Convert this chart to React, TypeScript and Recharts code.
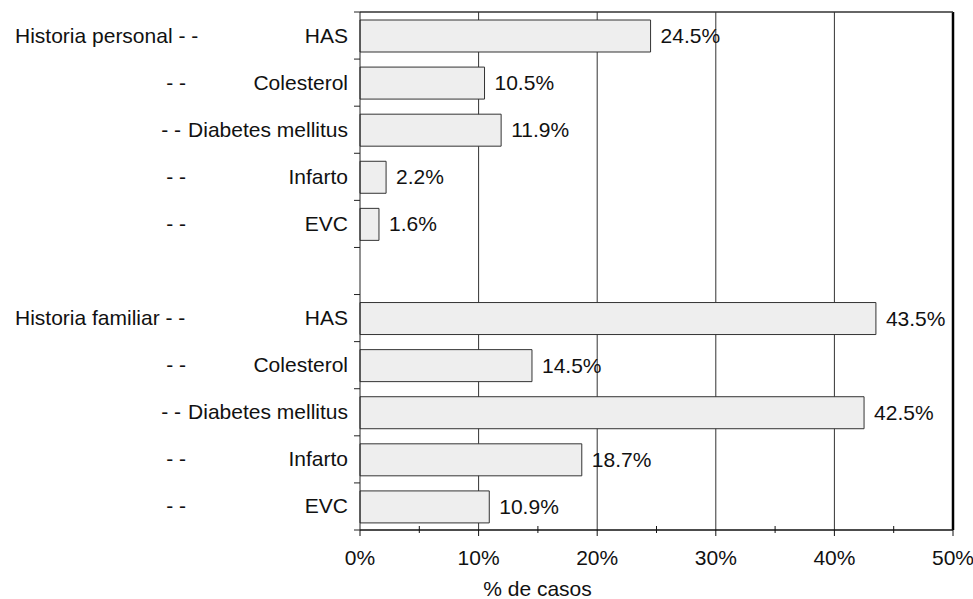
import { BarChart, Bar, XAxis, YAxis, CartesianGrid, LabelList, ReferenceLine } from "recharts";

const groups = ["Historia personal", "Historia familiar"];
const factors = ["HAS", "Colesterol", "Diabetes mellitus", "Infarto", "EVC"];
const personal = [24.5, 10.5, 11.9, 2.2, 1.6];
const familiar = [43.5, 14.5, 42.5, 18.7, 10.9];
const xTicks = [0, 5, 10, 15, 20, 25, 30, 35, 40, 45, 50];
const gridLines = [10, 20, 30, 40];

type Row = { id: string; name: string; group: string | null; value: number | null };

const rows: Row[] = [
  ...factors.map((f, i) => ({ id: "p" + i, name: f, group: i === 0 ? groups[0] : null, value: personal[i] })),
  { id: "gap", name: "", group: null, value: null },
  ...factors.map((f, i) => ({ id: "f" + i, name: f, group: i === 0 ? groups[1] : null, value: familiar[i] })),
];

const W = 973;
const H = 599;
const TOP = 12;
const AXIS_H = 69;
const FS = 21;
const FONT = '"Liberation Sans", Arial, sans-serif';
const half = (H - AXIS_H - TOP) / rows.length / 2;

let ctx: CanvasRenderingContext2D | null = null;
const measure = (s: string) => {
  if (!ctx) {
    ctx = document.createElement("canvas").getContext("2d");
    if (ctx) ctx.font = FS + 'px "Liberation Sans"';
  }
  return ctx ? ctx.measureText(s).width : s.length * 10;
};

function CatTick(props: any) {
  const { x, y, payload, index } = props;
  const row = rows.find(r => r.id === payload.value);
  const last = index === rows.length - 1;
  const labelEnd = x - 12;
  return (
    <g>
      <line x1={x - 6} x2={x} y1={y - half} y2={y - half} stroke="#222" />
      {last && <line x1={x - 6} x2={x} y1={y + half} y2={y + half} stroke="#222" />}
      {row && row.id !== "gap" && (
        <>
          <text x={labelEnd} y={y + 7} textAnchor="end" fontSize={FS} fontFamily={FONT} fill="#111">
            {row.name}
          </text>
          {row.group ? (
            <text x={15} y={y + 7} textAnchor="start" fontSize={FS} fontFamily={FONT} fill="#111">
              {row.group + " - -"}
            </text>
          ) : (
            <text
              x={Math.min(186, labelEnd - measure(row.name) - 7)}
              y={y + 7}
              textAnchor="end"
              fontSize={FS}
              fontFamily={FONT}
              fill="#111"
            >
              - -
            </text>
          )}
        </>
      )}
    </g>
  );
}

function PctTick(props: any) {
  const { x, y, payload } = props;
  const major = payload.value % 10 === 0;
  return (
    <g>
      {major ? (
        <line x1={x} x2={x} y1={y} y2={y + 6} stroke="#111" />
      ) : (
        <line x1={x} x2={x} y1={y - 4} y2={y + 3} stroke="#111" />
      )}
      {major && (
        <text x={x} y={y + 35} textAnchor="middle" fontSize={FS} fontFamily={FONT} fill="#111">
          {payload.value + "%"}
        </text>
      )}
    </g>
  );
}

function ValueLabel(props: any) {
  const { x, y, width, height, value } = props;
  if (value == null) return null;
  return (
    <text x={x + width + 10} y={y + height / 2 + 7} fontSize={FS} fontFamily={FONT} fill="#111">
      {value.toFixed(1) + "%"}
    </text>
  );
}

export default function App() {
  return (
    <div style={{ position: "absolute", left: 0, top: 0, background: "#fff" }}>
      <BarChart
        width={W}
        height={H}
        data={rows}
        layout="vertical"
        margin={{ top: TOP - 1, right: 20, left: 0, bottom: 0 }}
      >
        <CartesianGrid horizontal={false} verticalValues={gridLines} stroke="#333" />
        <XAxis
          xAxisId="top"
          orientation="top"
          type="number"
          domain={[0, 50]}
          height={1}
          tick={false}
          tickLine={false}
          axisLine={{ stroke: "#333", strokeWidth: 1.5 }}
        />
        <XAxis
          type="number"
          domain={[0, 50]}
          ticks={xTicks}
          interval={0}
          height={AXIS_H}
          tickSize={0}
          tickMargin={0}
          tickLine={false}
          tick={<PctTick />}
          axisLine={{ stroke: "#111", strokeWidth: 1.5 }}
          label={{
            value: "% de casos",
            position: "insideBottom",
            offset: 3,
            dx: -119,
            fontSize: FS,
            fontFamily: FONT,
            fill: "#111",
          }}
        />
        <YAxis
          type="category"
          dataKey="id"
          width={360}
          interval={0}
          tickSize={0}
          tickMargin={0}
          tickLine={false}
          tick={<CatTick />}
          axisLine={{ stroke: "#222" }}
        />
        <Bar dataKey="value" barSize={32} fill="#eeeeee" stroke="#333" isAnimationActive={false}>
          <LabelList dataKey="value" content={<ValueLabel />} />
        </Bar>
        <ReferenceLine x={50} stroke="#000" strokeWidth={2.5} />
      </BarChart>
    </div>
  );
}
